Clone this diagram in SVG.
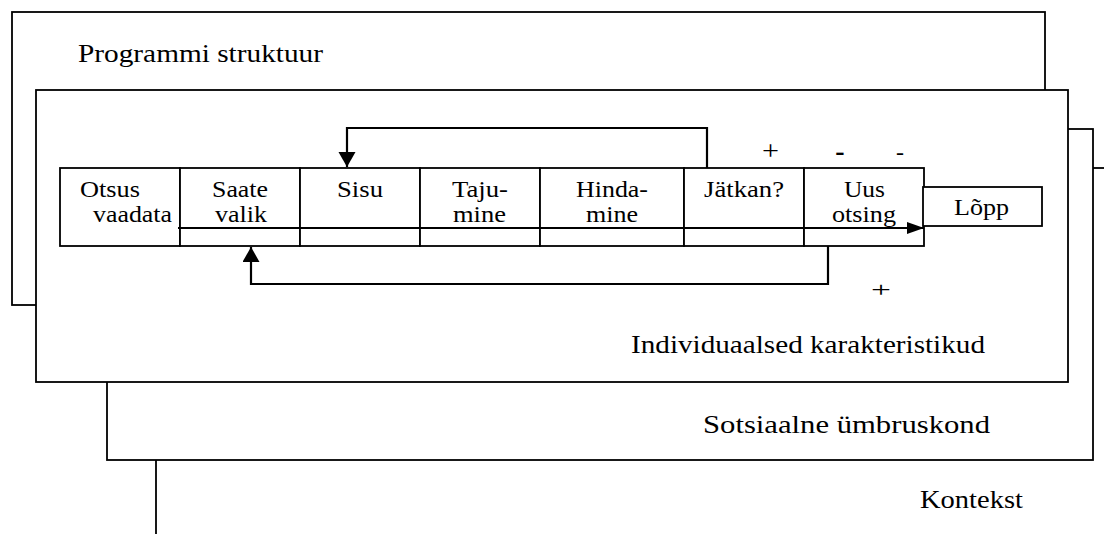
<svg xmlns="http://www.w3.org/2000/svg" width="1104" height="534" viewBox="0 0 1104 534" font-family="'Liberation Serif', serif">
<style>
.frame{fill:#fff;stroke:#000;stroke-width:1.8}
.cell{fill:#fff;stroke:#000;stroke-width:1.8}
text{font-family:"Liberation Serif",serif;fill:#000}
.lbl{font-size:26px}
.ct{font-size:23px}
.conn{fill:none;stroke:#000;stroke-width:2.2}
</style>
<defs>
<marker id="ahV" markerUnits="userSpaceOnUse" markerWidth="16" markerHeight="18" refX="15" refY="8.5" orient="auto" viewBox="0 0 16 18">
<path d="M0,0 L15,8.5 L0,17 Z" fill="#000"/>
</marker>
<marker id="ah" markerUnits="userSpaceOnUse" markerWidth="18" markerHeight="14" refX="17" refY="7" orient="auto" viewBox="0 0 18 14">
<path d="M0,1 L17,7 L0,13 Z" fill="#000"/>
</marker>
</defs>

<g id="kontekst">
<rect class="frame" x="156" y="168" width="1000" height="420"/>
<text class="lbl" x="920" y="508" textLength="103" lengthAdjust="spacingAndGlyphs">Kontekst</text>
</g>
<g id="sotsiaalne">
<rect class="frame" x="107" y="129" width="986" height="331"/>
<text class="lbl" x="703" y="433" textLength="287" lengthAdjust="spacingAndGlyphs">Sotsiaalne ümbruskond</text>
</g>
<g id="programmi">
<rect class="frame" x="12" y="12" width="1033" height="293"/>
<text class="lbl" x="78" y="62" textLength="245" lengthAdjust="spacingAndGlyphs">Programmi struktuur</text>
</g>
<g id="individuaalsed">
<rect class="frame" x="36" y="90" width="1032" height="292"/>
<text class="lbl" x="631" y="353" textLength="354" lengthAdjust="spacingAndGlyphs">Individuaalsed karakteristikud</text>
</g>

<g id="otsus">
<rect class="cell" x="60" y="168" width="120" height="78"/>
<text class="ct" x="80" y="197" textLength="60" lengthAdjust="spacingAndGlyphs">Otsus</text>
<text class="ct" x="93" y="222" textLength="79" lengthAdjust="spacingAndGlyphs">vaadata</text>
</g>
<g id="saate">
<rect class="cell" x="180" y="168" width="120" height="78"/>
<text class="ct" x="212" y="197" textLength="56" lengthAdjust="spacingAndGlyphs">Saate</text>
<text class="ct" x="215" y="222" textLength="52" lengthAdjust="spacingAndGlyphs">valik</text>
</g>
<g id="sisu">
<rect class="cell" x="300" y="168" width="120" height="78"/>
<text class="ct" x="337" y="197" textLength="46" lengthAdjust="spacingAndGlyphs">Sisu</text>
</g>
<g id="taju">
<rect class="cell" x="420" y="168" width="120" height="78"/>
<text class="ct" x="452" y="197" textLength="56" lengthAdjust="spacingAndGlyphs">Taju-</text>
<text class="ct" x="453" y="222" textLength="53" lengthAdjust="spacingAndGlyphs">mine</text>
</g>
<g id="hinda">
<rect class="cell" x="540" y="168" width="144" height="78"/>
<text class="ct" x="576" y="197" textLength="72" lengthAdjust="spacingAndGlyphs">Hinda-</text>
<text class="ct" x="586" y="222" textLength="52" lengthAdjust="spacingAndGlyphs">mine</text>
</g>
<g id="jatkan">
<rect class="cell" x="684" y="168" width="120" height="78"/>
<text class="ct" x="704" y="197" textLength="80" lengthAdjust="spacingAndGlyphs">Jätkan?</text>
</g>
<g id="uus">
<rect class="cell" x="804" y="168" width="120" height="78"/>
<text class="ct" x="844" y="197" textLength="41" lengthAdjust="spacingAndGlyphs">Uus</text>
<text class="ct" x="832" y="222" textLength="64" lengthAdjust="spacingAndGlyphs">otsing</text>
</g>
<g id="lopp">
<rect class="cell" x="923" y="187" width="119" height="39"/>
<text class="ct" x="954" y="215" textLength="55" lengthAdjust="spacingAndGlyphs">Lõpp</text>
</g>

<g id="connectors">
<path class="conn" d="M707,168 V128 H347 V167" marker-end="url(#ahV)"/>
<path class="conn" d="M828,246 V284 H251 V247" marker-end="url(#ahV)"/>
<path class="conn" d="M178,228 H924" stroke-width="2" marker-end="url(#ah)"/>
</g>

<g id="signs">
<text x="762" y="160" font-size="27" textLength="17" lengthAdjust="spacingAndGlyphs">+</text>
<text x="840" y="160" font-size="28" font-weight="bold" text-anchor="middle">-</text>
<text x="900" y="160" font-size="24" text-anchor="middle">-</text>
<text x="871" y="297" font-size="22" textLength="20" lengthAdjust="spacingAndGlyphs">+</text>
</g>
</svg>
